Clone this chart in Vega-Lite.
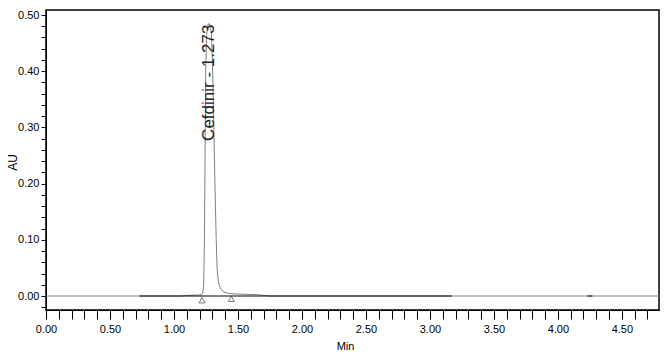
{
  "$schema": "https://vega.github.io/schema/vega-lite/v6.json",
  "autosize": {"type": "none"},
  "width": 613,
  "height": 300,
  "padding": {"left": 46, "top": 10, "right": 10, "bottom": 44},
  "background": "white",
  "config": {
    "view": {"stroke": "black", "strokeWidth": 1.5},
    "font": "Liberation Sans Narrow, Liberation Sans, Arial",
    "axis": {"grid": false, "domainColor": "black", "tickColor": "black", "labelColor": "black", "titleColor": "black", "labelFont": "Liberation Sans Narrow, Liberation Sans, Arial", "titleFont": "Liberation Sans Narrow, Liberation Sans, Arial", "titleFontWeight": "normal", "labelOverlap": false, "labelFlush": false}
  },
  "datasets": {
    "trace": [
      {"t": 0.0, "au": 0}, {"t": 0.73, "au": 0}, {"t": 1.05, "au": 0}, {"t": 1.1, "au": 0.001},
      {"t": 1.15, "au": 0.0015}, {"t": 1.2, "au": 0.002}, {"t": 1.215, "au": 0.0025}, {"t": 1.225, "au": 0.005},
      {"t": 1.232, "au": 0.02}, {"t": 1.238, "au": 0.1}, {"t": 1.243, "au": 0.25}, {"t": 1.248, "au": 0.4},
      {"t": 1.255, "au": 0.465}, {"t": 1.265, "au": 0.482}, {"t": 1.273, "au": 0.485}, {"t": 1.283, "au": 0.482},
      {"t": 1.292, "au": 0.468}, {"t": 1.3, "au": 0.42}, {"t": 1.31, "au": 0.32}, {"t": 1.32, "au": 0.2},
      {"t": 1.33, "au": 0.1}, {"t": 1.337, "au": 0.05}, {"t": 1.345, "au": 0.028}, {"t": 1.355, "au": 0.018},
      {"t": 1.37, "au": 0.011}, {"t": 1.39, "au": 0.007}, {"t": 1.42, "au": 0.005}, {"t": 1.45, "au": 0.004},
      {"t": 1.55, "au": 0.003}, {"t": 1.65, "au": 0.0025}, {"t": 1.7, "au": 0.001}, {"t": 1.75, "au": 0},
      {"t": 4.79, "au": 0}
    ],
    "base": [
      {"seg": "a", "t": 0.73, "au": 0}, {"seg": "a", "t": 3.17, "au": 0},
      {"seg": "b", "t": 4.23, "au": 0}, {"seg": "b", "t": 4.27, "au": 0}
    ],
    "marks": [
      {"t": 1.219, "au": -0.0077}, {"t": 1.448, "au": -0.005}
    ],
    "label": [
      {"t": 1.273, "au": 0.276, "text": "Cefdinir - 1.273"}
    ]
  },
  "layer": [
    {
      "data": {"name": "trace"},
      "mark": {"type": "line", "color": "#808080", "strokeWidth": 1},
      "encoding": {
        "x": {"field": "t", "type": "quantitative",
          "scale": {"domain": [0, 4.79], "nice": false, "zero": false},
          "axis": {
            "title": "Min", "titleFontSize": 11, "titlePadding": 6, "titleX": 299,
            "values": [0,0.1,0.2,0.3,0.4,0.5,0.6,0.7,0.8,0.9,1.0,1.1,1.2,1.3,1.4,1.5,1.6,1.7,1.8,1.9,2.0,2.1,2.2,2.3,2.4,2.5,2.6,2.7,2.8,2.9,3.0,3.1,3.2,3.3,3.4,3.5,3.6,3.7,3.8,3.9,4.0,4.1,4.2,4.3,4.4,4.5,4.6,4.7],
            "tickCount": 200,
            "labelExpr": "round(datum.value*10)%5==0 ? format(datum.value,'.2f') : ''",
            "labelOverlap": false, "labelFlush": false, "labelBound": false,
            "tickSize": 9,
            "encode": {"ticks": {"update": {"y2": {"signal": "round(datum.value*10)%5==0 ? 9 : 4"}}}},
            "labelFontSize": 11, "labelPadding": 4
          }
        },
        "y": {"field": "au", "type": "quantitative",
          "scale": {"domain": [-0.0249, 0.5089], "nice": false, "zero": false},
          "axis": {
            "title": "AU", "titleFontSize": 12,
            "titleAngle": 270, "titleX": -34, "titleY": 152, "titleAlign": "center", "titleBaseline": "middle",
            "values": [-0.02,0,0.02,0.04,0.06,0.08,0.1,0.12,0.14,0.16,0.18,0.2,0.22,0.24,0.26,0.28,0.3,0.32,0.34,0.36,0.38,0.4,0.42,0.44,0.46,0.48,0.5],
            "tickCount": 200,
            "labelExpr": "round(datum.value*50)%5==0 ? format(datum.value,'.2f') : ''",
            "labelOverlap": false, "labelFlush": false, "labelBound": false,
            "tickSize": 5,
            "encode": {"ticks": {"update": {"x2": {"signal": "round(datum.value*50)%5==0 ? -5 : -3"}}}},
            "labelFontSize": 11, "labelPadding": 2
          }
        }
      }
    },
    {
      "data": {"name": "base"},
      "mark": {"type": "line", "color": "black", "strokeWidth": 1},
      "encoding": {
        "x": {"field": "t", "type": "quantitative"},
        "y": {"field": "au", "type": "quantitative"},
        "detail": {"field": "seg"}
      }
    },
    {
      "data": {"name": "marks"},
      "mark": {"type": "point", "shape": "triangle-up", "filled": false, "color": "#222", "size": 36, "strokeWidth": 0.9},
      "encoding": {
        "x": {"field": "t", "type": "quantitative"},
        "y": {"field": "au", "type": "quantitative"}
      }
    },
    {
      "data": {"name": "label"},
      "mark": {"type": "text", "angle": 270, "align": "left", "baseline": "middle", "fontSize": 17, "color": "#222", "font": "Liberation Sans, Arial"},
      "encoding": {
        "x": {"field": "t", "type": "quantitative"},
        "y": {"field": "au", "type": "quantitative"},
        "text": {"field": "text"}
      }
    }
  ]
}
